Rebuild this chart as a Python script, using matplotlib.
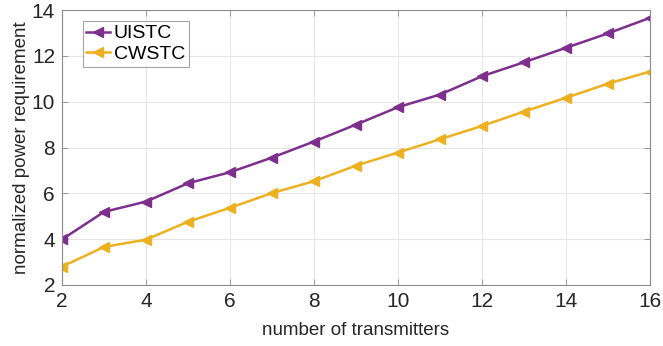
import numpy as np
import matplotlib
matplotlib.use("Agg")
import matplotlib.pyplot as plt

# data
n_tx = [2, 3, 4, 5, 6, 7, 8, 9, 10, 11, 12, 13, 14, 15, 16]
uistc = [3.99, 5.19, 5.64, 6.44, 6.92, 7.56, 8.26, 9.0, 9.76, 10.31, 11.11, 11.72, 12.35, 12.98, 13.66]
cwstc = [2.80, 3.66, 3.98, 4.76, 5.37, 6.01, 6.53, 7.21, 7.78, 8.36, 8.94, 9.57, 10.17, 10.79, 11.31]

x_ticks = [2, 4, 6, 8, 10, 12, 14, 16]
y_ticks = [2, 4, 6, 8, 10, 12, 14]

plt.rcParams['font.family'] = ['Liberation Sans', 'DejaVu Sans']

fig = plt.figure(figsize=(6.63, 3.46), dpi=100)
ax = fig.add_axes([62 / 663, 1 - 285 / 346, (650 - 62) / 663, (285 - 10) / 346])

ax.plot(n_tx, uistc, color='#7E2F8E', marker='<', markersize=6.5, linewidth=1.8, label='UISTC')
ax.plot(n_tx, cwstc, color='#EDB120', marker='<', markersize=6.5, linewidth=1.8, label='CWSTC')

ax.set_xlim(2, 16)
ax.set_ylim(2, 14)
ax.set_xticks(x_ticks)
ax.set_yticks(y_ticks)
ax.grid(True, color='#e6e6e6', linewidth=0.8)
ax.set_axisbelow(True)
ax.tick_params(direction='in', labelsize=15, length=4, width=0.6, colors='#8c8c8c',
               top=True, right=True, labelcolor='#262626', pad=5)
for s in ax.spines.values():
    s.set_color('#8c8c8c')
    s.set_linewidth(0.8)

ax.set_xlabel('number of transmitters', fontsize=13.5, color='#262626', labelpad=8)
ax.set_ylabel('normalized power requirement', fontsize=13.5, color='#262626', labelpad=1)

leg = ax.legend(loc='upper left', bbox_to_anchor=(0.035, 0.96), fontsize=14, handlelength=1.2,
                handletextpad=0.2, borderpad=0.2, labelspacing=0.15, fancybox=False,
                frameon=True, borderaxespad=0)
leg.get_frame().set_edgecolor('#8c8c8c')
leg.get_frame().set_linewidth(0.8)

fig.savefig('out.png', dpi=100)
